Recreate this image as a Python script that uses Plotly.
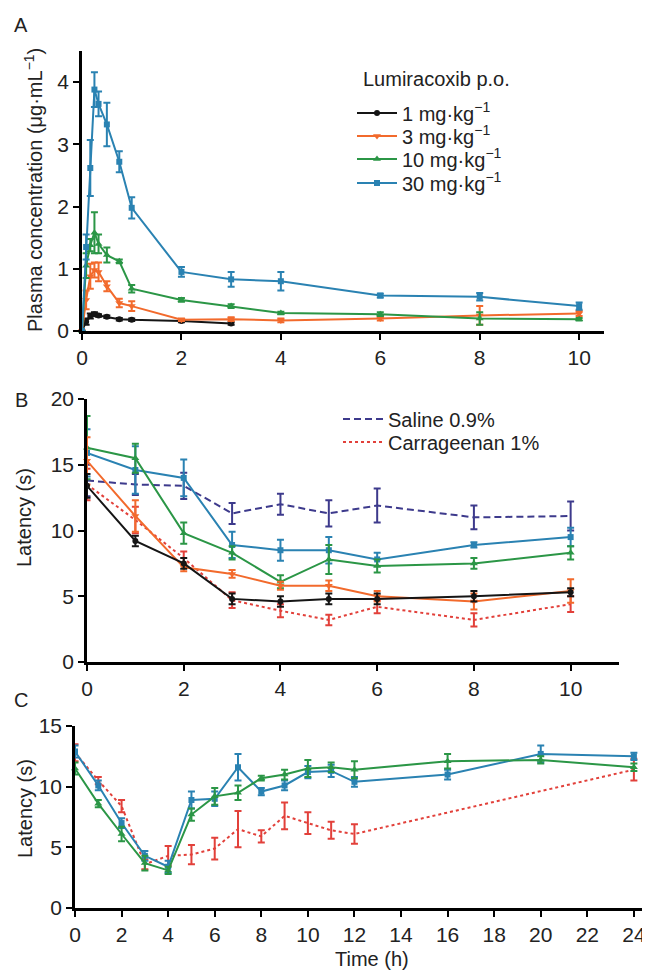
import plotly.graph_objects as go

FONT = "Liberation Sans, Arial, Helvetica, sans-serif"

# ---------- Panel A: plasma concentration ----------
tA = [0, 0.083, 0.167, 0.25, 0.333, 0.5, 0.75, 1, 2, 3, 4, 6, 8, 10]
tA1 = [0, 0.083, 0.167, 0.25, 0.333, 0.5, 0.75, 1, 2, 3]
a_1mg = [0, 0.15, 0.24, 0.27, 0.25, 0.23, 0.19, 0.18, 0.16, 0.12]
a_1mg_err = [0, 0.05, 0.04, 0.03, 0.02, 0.02, 0.02, 0.02, 0.02, 0.02]
a_3mg = [0, 0.50, 0.88, 0.98, 0.95, 0.72, 0.45, 0.40, 0.18, 0.19, 0.17, 0.20, 0.25, 0.28]
a_3mg_err = [0, 0.15, 0.2, 0.12, 0.15, 0.08, 0.07, 0.08, 0.02, 0.03, 0.03, 0.03, 0.15, 0.04]
a_10mg = [0, 1.05, 1.38, 1.58, 1.40, 1.22, 1.12, 0.68, 0.50, 0.40, 0.29, 0.27, 0.20, 0.19]
a_10mg_err = [0, 0.2, 0.1, 0.33, 0.15, 0.12, 0.03, 0.06, 0.03, 0.03, 0.02, 0.03, 0.1, 0.02]
a_30mg = [0, 1.35, 2.62, 3.88, 3.65, 3.32, 2.72, 1.98, 0.95, 0.83, 0.80, 0.57, 0.55, 0.40]
a_30mg_err = [0, 0.2, 0.45, 0.28, 0.2, 0.35, 0.17, 0.17, 0.08, 0.12, 0.15, 0.03, 0.06, 0.06]

# ---------- Panel B: latency 0-10 h ----------
tB = [0, 1, 2, 3, 4, 5, 6, 8, 10]
b_saline = [13.8, 13.5, 13.4, 11.3, 12.0, 11.3, 11.9, 11.0, 11.1]
b_saline_err = [1.2, 0.8, 1.0, 0.8, 0.8, 1.0, 1.3, 0.9, 1.1]
b_carr = [13.5, 10.8, 7.9, 4.7, 3.9, 3.2, 4.2, 3.2, 4.4]
b_carr_err = [1.2, 1.0, 0.5, 0.6, 0.5, 0.4, 0.5, 0.5, 0.6]
b_1mg = [13.4, 9.2, 7.5, 4.8, 4.6, 4.8, 4.8, 5.0, 5.3]
b_1mg_err = [0.9, 0.4, 0.4, 0.4, 0.4, 0.4, 0.4, 0.4, 0.3]
b_3mg = [15.3, 11.1, 7.2, 6.7, 5.8, 5.8, 5.0, 4.6, 5.4]
b_3mg_err = [1.8, 1.2, 0.3, 0.3, 0.3, 0.4, 0.4, 0.6, 0.9]
b_10mg = [16.3, 15.5, 9.8, 8.3, 6.1, 7.8, 7.3, 7.5, 8.3]
b_10mg_err = [2.4, 1.1, 0.8, 0.5, 0.5, 1.1, 0.5, 0.4, 0.5]
b_30mg = [15.9, 14.6, 14.0, 8.9, 8.5, 8.5, 7.8, 8.9, 9.5]
b_30mg_err = [1.8, 1.8, 1.4, 1.0, 0.8, 1.0, 0.5, 0.2, 0.7]

# ---------- Panel C: latency 0-24 h ----------
tC_carr = [0, 1, 2, 3, 4, 5, 6, 7, 8, 9, 10, 11, 12, 24]
c_carr = [12.8, 10.5, 8.4, 3.6, 4.3, 4.4, 4.9, 6.5, 5.9, 7.6, 7.0, 6.4, 6.1, 11.4]
c_carr_err = [0.7, 0.3, 0.5, 0.4, 0.8, 0.8, 0.9, 1.5, 0.5, 1.1, 0.9, 0.7, 0.8, 0.9]
tC = [0, 1, 2, 3, 4, 5, 6, 7, 8, 9, 10, 11, 12, 16, 20, 24]
c_30mg = [12.9, 10.1, 7.0, 4.3, 3.4, 8.9, 9.0, 11.6, 9.6, 10.1, 11.2, 11.3, 10.4, 11.0, 12.7, 12.5]
c_30mg_err = [0.5, 0.4, 0.4, 0.4, 0.5, 0.7, 0.6, 1.1, 0.3, 0.4, 0.5, 0.5, 0.4, 0.4, 0.7, 0.3]
c_10mg = [11.5, 8.6, 6.1, 3.7, 3.1, 7.7, 9.2, 9.5, 10.7, 11.0, 11.5, 11.6, 11.4, 12.1, 12.2, 11.6]
c_10mg_err = [0.5, 0.3, 0.6, 0.6, 0.3, 0.5, 0.7, 0.6, 0.2, 0.4, 0.7, 0.4, 0.7, 0.6, 0.3, 0.3]

dose_names = ["1 mg·kg<sup>−1</sup>", "3 mg·kg<sup>−1</sup>",
              "10 mg·kg<sup>−1</sup>", "30 mg·kg<sup>−1</sup>"]
treat_names = ["Saline 0.9%", "Carrageenan 1%"]
tick_A_x = [0, 2, 4, 6, 8, 10]
tick_A_y = [0, 1, 2, 3, 4]
tick_B_x = [0, 2, 4, 6, 8, 10]
tick_B_y = [0, 5, 10, 15, 20]
tick_C_x = list(range(0, 25, 2))
tick_C_y = [0, 5, 10, 15]

BLACK = "#151515"
ORANGE = "#f26a2c"
GREEN = "#2b9646"
BLUE = "#2a82b2"
PURPLE = "#3d3a8c"
RED = "#e2403a"
TXT = "#222222"

# The page has an 8px body margin: figure is 642x964 and sits at (8, 8).
W, H, OFF = 642, 964, 8


def fx(p):
    return (p - OFF) / W


def fy(p):
    return 1 - (p - OFF) / H


fig = go.Figure()


def add(x, y, err, color, xa, ya, name=None, symbol=None, size=6, dash="solid",
        legend="legend", show=False, width=2):
    mode = "lines+markers" if symbol else "lines"
    fig.add_trace(go.Scatter(
        x=x, y=y, mode=mode, name=name, xaxis=xa, yaxis=ya,
        line=dict(color=color, width=width, dash=dash),
        marker=dict(symbol=symbol or "circle", size=size, color=color),
        error_y=dict(type="data", array=err, color=color, thickness=2, width=3.5),
        showlegend=show, legend=legend, cliponaxis=False,
    ))


DASH = "7px,4px"
DOT = "3px,3px"

# Panel A
add(tA1, a_1mg, a_1mg_err, BLACK, "x", "y", dose_names[0], "circle", 6, show=True, legend="legend")
add(tA, a_3mg, a_3mg_err, ORANGE, "x", "y", dose_names[1], "triangle-down", 7, show=True, legend="legend2")
add(tA, a_10mg, a_10mg_err, GREEN, "x", "y", dose_names[2], "triangle-up", 7, show=True, legend="legend3")
add(tA, a_30mg, a_30mg_err, BLUE, "x", "y", dose_names[3], "square", 6, show=True, legend="legend4")

# Panel B
add(tB, b_saline, b_saline_err, PURPLE, "x2", "y2", treat_names[0], None, dash=DASH,
    legend="legend5", show=True)
add(tB, b_carr, b_carr_err, RED, "x2", "y2", treat_names[1], None, dash=DOT,
    legend="legend6", show=True)
add(tB, b_30mg, b_30mg_err, BLUE, "x2", "y2", None, "square", 6)
add(tB, b_10mg, b_10mg_err, GREEN, "x2", "y2", None, "triangle-up", 7)
add(tB, b_3mg, b_3mg_err, ORANGE, "x2", "y2", None, "triangle-down", 7)
add(tB, b_1mg, b_1mg_err, BLACK, "x2", "y2", None, "circle", 6)

# Panel C
add(tC_carr, c_carr, c_carr_err, RED, "x3", "y3", None, None, dash=DOT)
add(tC, c_30mg, c_30mg_err, BLUE, "x3", "y3", None, "square", 6)
add(tC, c_10mg, c_10mg_err, GREEN, "x3", "y3", None, "triangle-up", 7)

axis_common = dict(showline=True, linecolor="black", linewidth=2.5, ticks="outside",
                   ticklen=6, tickwidth=2, tickcolor="black", showgrid=False,
                   zeroline=False, automargin=False,
                   tickfont=dict(family=FONT, size=21, color=TXT))


def leg(xp, yp):
    return dict(x=fx(xp), y=fy(yp), xanchor="left", yanchor="middle",
                bgcolor="rgba(0,0,0,0)", borderwidth=0, itemwidth=40,
                font=dict(family=FONT, size=20, color=TXT))


fig.update_layout(
    width=W, height=H, margin=dict(l=0, r=0, t=0, b=0),
    paper_bgcolor="white", plot_bgcolor="white",
    font=dict(family=FONT, size=20, color=TXT),
    xaxis=dict(domain=[fx(82), fx(604)], range=[0, 10.5], tickvals=tick_A_x,
               anchor="y", **axis_common),
    yaxis=dict(domain=[fy(331), fy(51)], range=[0, 4.5], tickvals=tick_A_y,
               anchor="x", **axis_common),
    xaxis2=dict(domain=[fx(87), fx(619)], range=[0, 11], tickvals=tick_B_x,
                anchor="y2", **axis_common),
    yaxis2=dict(domain=[fy(662), fy(399)], range=[0, 20], tickvals=tick_B_y,
                anchor="x2", **axis_common),
    xaxis3=dict(domain=[fx(75), fx(646)], range=[0, 24.52], tickvals=tick_C_x,
                anchor="y3", **axis_common),
    yaxis3=dict(domain=[fy(908), fy(726)], range=[0, 15], tickvals=tick_C_y,
                anchor="x3", **axis_common),
    legend=leg(352, 113),
    legend2=leg(352, 136),
    legend3=leg(352, 159),
    legend4=leg(352, 183),
    legend5=leg(338, 419),
    legend6=leg(338, 442),
    showlegend=True,
)

ann = dict(xref="paper", yref="paper", showarrow=False,
           font=dict(family=FONT, size=20, color=TXT))
fig.add_annotation(text="Lumiracoxib p.o.", x=fx(361), y=fy(79), xanchor="left", yanchor="middle", **ann)
fig.add_annotation(text="A", x=fx(21), y=fy(25), xanchor="center", yanchor="middle", **ann)
fig.add_annotation(text="B", x=fx(21), y=fy(400), xanchor="center", yanchor="middle", **ann)
fig.add_annotation(text="C", x=fx(21), y=fy(700), xanchor="center", yanchor="middle", **ann)
fig.add_annotation(text="Plasma concentration (μg·mL<sup>−1</sup>)", x=fx(33), y=fy(190),
                   textangle=-90, xanchor="center", yanchor="middle", **ann)
fig.add_annotation(text="Latency (s)", x=fx(24), y=fy(518),
                   textangle=-90, xanchor="center", yanchor="middle", **ann)
fig.add_annotation(text="Latency (s)", x=fx(25), y=fy(809),
                   textangle=-90, xanchor="center", yanchor="middle", **ann)
fig.add_annotation(text="Time (h)", x=fx(372), y=fy(959),
                   xanchor="center", yanchor="middle", **ann)

fig.write_html("out.html")
